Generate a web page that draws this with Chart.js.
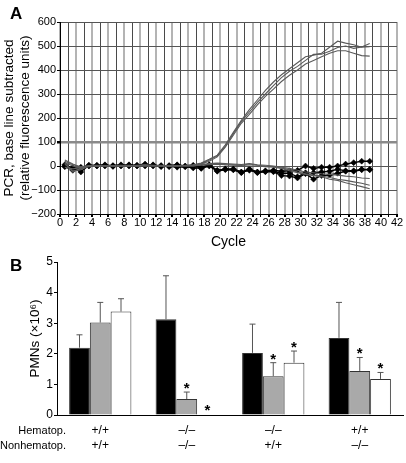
<!DOCTYPE html>
<html>
<head>
<meta charset="utf-8">
<script src="https://cdn.jsdelivr.net/npm/chart.js@4.4.1/dist/chart.umd.min.js"></script>
<style>
    html, body { margin: 0; padding: 0; background: #fff; }
    body { width: 406px; height: 463px; position: relative; overflow: hidden; font-family: 'Liberation Sans', Arial, sans-serif; }
    .panel { position: absolute; left: 0; width: 406px; }
    #panelA { top: 0; height: 256px; }
    #panelB { top: 250px; height: 213px; }
    .panel-letter { position: absolute; font-weight: bold; font-size: 17px; color: #000; }
</style>
</head>
<body>
<div class="panel" id="panelA"><canvas id="pcrChart"></canvas></div>
<div class="panel" id="panelB"><canvas id="pmnChart"></canvas></div>
<div class="panel-letter" style="left: 10px; top: 4px;">A</div>
<div class="panel-letter" style="left: 10px; top: 256px;">B</div>
<script>
// Panel A: PCR amplification, one value per cycle
const cycles = [0.6, 1.6, 2.6, 3.6, 4.6, 5.6, 6.6, 7.6, 8.6, 9.6, 10.6, 11.6, 12.6, 13.6, 14.6, 15.6, 16.6, 17.6, 18.6, 19.6,
    20.6, 21.6, 22.6, 23.6, 24.6, 25.6, 26.6, 27.6, 28.6, 29.6, 30.6, 31.6, 32.6, 33.6, 34.6, 35.6, 36.6, 37.6, 38.6];

const ampCurve1 = [20, 5, -3, 2, 3, 0, 2, 3, 0, 3, 5, 2, 3, 0, 2, 3, 5, 12, 28, 45,
    88, 140, 190, 235, 275, 315, 350, 380, 405, 430, 455, 462, 470, 495, 520, 512, 505, 495, 497];
const ampCurve2 = [12, -25, -8, 0, 2, 1, 0, 2, 3, 1, 4, 2, 0, 3, 1, 2, 4, 10, 25, 42,
    82, 135, 185, 225, 265, 300, 335, 368, 395, 415, 440, 465, 466, 478, 494, 500, 490, 496, 510];
const ampCurve3 = [-5, -12, -6, -2, 0, 2, 1, 0, 2, 0, 2, 3, 1, 0, 2, 0, 3, 8, 20, 38,
    78, 128, 178, 215, 255, 290, 320, 352, 378, 400, 425, 440, 455, 470, 480, 480, 470, 460, 458];

const markedLine1 = [0, -8, -25, 3, 2, 5, 0, 2, 3, 0, 5, 3, 0, 2, 5, 0, 3, -5, 5, -18,
    -12, -12, -25, -12, -25, -20, -18, -22, -20, -18, 0, -10, -5, -5, 0, 8, 14, 20, 20];
const markedLine2 = [5, -10, -5, 0, 3, 0, 2, 5, 0, 3, 8, 0, 2, -3, 3, -2, 0, -8, 3, -20,
    -14, -15, -28, -15, -28, -22, -22, -30, -30, -45, -28, -28, -25, -22, -14, -20, -20, -14, -14];
const markedLine3 = [-3, -18, -8, 2, 0, 3, -2, 0, 5, 2, 0, 5, -3, 0, -5, -3, -8, -10, 0, -22,
    -15, -16, -26, -18, -26, -24, -24, -40, -42, -50, -32, -55, -40, -38, -30, -22, -22, -16, -16];

const plainLine1 = [15, 0, -10, -3, 0, 2, 0, 0, 2, 0, 0, 2, 0, 0, 2, 0, 0, 5, 8, 10,
    5, 5, 3, 8, 3, 0, -2, -8, -15, -25, -32, -38, -42, -48, -55, -60, -66, -72, -80];
const plainLine2 = [8, -20, -15, 0, -2, 0, 0, 1, 0, 0, 2, 0, 0, 1, 0, 2, 0, 3, 5, 8,
    5, 3, 2, 0, 0, -3, -5, -10, -20, -28, -35, -40, -45, -55, -60, -70, -78, -86, -95];
const plainLine3 = [25, 8, -5, 0, 0, 2, 1, 0, 0, 2, 0, 1, 0, 0, 0, 1, 2, 5, 10, 12,
    10, 8, 6, 10, 5, 3, 0, -5, -10, -18, -25, -28, -32, -35, -38, -42, -45, -50, -52];

// Panel B: PMN counts per genotype group
const hematopLabels = ['+/+', '\u2013/\u2013', '\u2013/\u2013', '+/+'];
const nonhematopLabels = ['+/+', '\u2013/\u2013', '+/+', '\u2013/\u2013'];

const blackMeans = [2.2, 3.13, 2.03, 2.52];
const blackErrors = [0.42, 1.42, 0.94, 1.16];
const blackStars = [false, false, false, false];

const grayMeans = [3.02, 0.52, 1.27, 1.44];
const grayErrors = [0.66, 0.23, 0.44, 0.44];
const grayStars = [false, true, true, true];

const whiteMeans = [3.38, 0.02, 1.71, 1.18];
const whiteErrors = [0.42, 0, 0.38, 0.21];
const whiteStars = [false, true, true, true];

const fontFamily = "'Liberation Sans', Arial, sans-serif";
Chart.defaults.font.family = fontFamily;
Chart.defaults.color = '#000';

function toPoints(values) {
    return values.map(function (value, i) {
        return { x: cycles[i], y: value };
    });
}

function plainDataset(values) {
    return {
        data: toPoints(values),
        borderColor: '#5a5a5a',
        borderWidth: 1.1,
        pointRadius: 0,
        tension: 0
    };
}

function markedDataset(values) {
    return {
        data: toPoints(values),
        borderColor: '#000',
        borderWidth: 1.4,
        pointRadius: 3,
        pointStyle: 'rectRot',
        pointBackgroundColor: '#000',
        pointBorderColor: '#000',
        pointBorderWidth: 0.5,
        tension: 0
    };
}

new Chart(document.getElementById('pcrChart'), {
    type: 'line',
    data: {
        datasets: [
            plainDataset(plainLine1),
            plainDataset(plainLine2),
            plainDataset(plainLine3),
            plainDataset(ampCurve1),
            plainDataset(ampCurve2),
            plainDataset(ampCurve3),
            markedDataset(markedLine1),
            markedDataset(markedLine2),
            markedDataset(markedLine3)
        ]
    },
    options: {
        responsive: true,
        maintainAspectRatio: false,
        animation: false,
        events: [],
        layout: { padding: { top: 22, right: 9, left: 0, bottom: 0 } },
        plugins: { legend: { display: false }, tooltip: { enabled: false } },
        scales: {
            x: {
                type: 'linear',
                min: 0,
                max: 42,
                afterFit: function (scale) { scale.height = 42; },
                ticks: {
                    stepSize: 1,
                    autoSkip: false,
                    maxRotation: 0,
                    padding: 0,
                    font: { size: 11, lineHeight: 1 },
                    callback: function (value) {
                        return value % 2 === 0 ? String(value) : '';
                    }
                },
                grid: {
                    color: function (ctx) {
                        return ctx.tick && ctx.tick.value % 2 === 0 ? '#b4b4b4' : '#4a4a4a';
                    },
                    lineWidth: function (ctx) {
                        return ctx.tick && ctx.tick.value % 2 === 0 ? 2 : 1;
                    },
                    tickLength: 3,
                    tickColor: '#000'
                },
                border: { color: '#000', width: 1 },
                title: {
                    display: true,
                    text: 'Cycle',
                    font: { size: 14 },
                    padding: { top: 0, bottom: 5 }
                }
            },
            y: {
                min: -200,
                max: 600,
                afterFit: function (scale) { scale.width = 60; },
                ticks: {
                    stepSize: 50,
                    padding: 1,
                    font: { size: 11 },
                    callback: function (value) {
                        if (value % 100 !== 0) {
                            return '';
                        }
                        return value < 0 ? '\u2212' + Math.abs(value) : String(value);
                    }
                },
                grid: {
                    color: function (ctx) {
                        return ctx.tick && ctx.tick.value === 100 ? '#8a8a8a' : '#555';
                    },
                    lineWidth: function (ctx) {
                        return ctx.tick && ctx.tick.value === 100 ? 2.5 : 1;
                    },
                    tickLength: 3,
                    tickColor: '#000'
                },
                border: { color: '#000', width: 1 },
                title: {
                    display: true,
                    text: ['PCR, base line subtracted', '(relative fluorescence units)'],
                    font: { size: 13.5, lineHeight: 1.2 },
                    padding: { top: 1, bottom: 0 }
                }
            }
        }
    }
});

const errorBarPlugin = {
    id: 'errorBars',
    afterDatasetsDraw: function (chart) {
        const ctx = chart.ctx;
        const yScale = chart.scales.y;

        ctx.save();
        chart.data.datasets.forEach(function (dataset, i) {
            const meta = chart.getDatasetMeta(i);
            meta.data.forEach(function (bar, j) {
                const yTop = yScale.getPixelForValue(dataset.data[j] + dataset.errors[j]);

                if (dataset.errors[j] > 0) {
                    ctx.strokeStyle = '#555';
                    ctx.lineWidth = 1;
                    ctx.beginPath();
                    ctx.moveTo(bar.x, bar.y);
                    ctx.lineTo(bar.x, yTop);
                    ctx.moveTo(bar.x - 3, yTop);
                    ctx.lineTo(bar.x + 3, yTop);
                    ctx.stroke();
                }

                if (dataset.stars[j]) {
                    ctx.fillStyle = '#000';
                    ctx.font = 'bold 15px ' + fontFamily;
                    ctx.textAlign = 'center';
                    ctx.textBaseline = 'alphabetic';
                    ctx.fillText('*', bar.x, yTop + 1);
                }
            });
        });
        ctx.restore();
    },
    afterDraw: function (chart) {
        const ctx = chart.ctx;
        const area = chart.chartArea;

        ctx.save();
        ctx.fillStyle = '#000';
        ctx.font = '11px ' + fontFamily;
        ctx.textAlign = 'right';
        ctx.textBaseline = 'middle';
        ctx.fillText('Hematop.', area.left + 9, area.bottom + 16);
        ctx.fillText('Nonhematop.', area.left + 9, area.bottom + 31);
        ctx.restore();
    }
};

function barDataset(means, errors, stars, color) {
    return {
        data: means,
        errors: errors,
        stars: stars,
        backgroundColor: color,
        borderColor: '#333',
        borderWidth: 1,
        categoryPercentage: 0.72,
        barPercentage: 1
    };
}

new Chart(document.getElementById('pmnChart'), {
    type: 'bar',
    data: {
        labels: hematopLabels.map(function (label, i) {
            return [label, nonhematopLabels[i]];
        }),
        datasets: [
            barDataset(blackMeans, blackErrors, blackStars, '#000'),
            barDataset(grayMeans, grayErrors, grayStars, '#a9a9a9'),
            barDataset(whiteMeans, whiteErrors, whiteStars, '#fff')
        ]
    },
    options: {
        responsive: true,
        maintainAspectRatio: false,
        animation: false,
        events: [],
        layout: { padding: { top: 12, right: 3, left: 0, bottom: 0 } },
        plugins: { legend: { display: false }, tooltip: { enabled: false } },
        scales: {
            x: {
                afterFit: function (scale) { scale.height = 48; },
                ticks: {
                    padding: 8.5,
                    maxRotation: 0,
                    font: { size: 12, lineHeight: 1.25 }
                },
                grid: { display: false, drawTicks: false },
                border: { color: '#000', width: 1 }
            },
            y: {
                min: 0,
                max: 5,
                afterFit: function (scale) { scale.width = 57; },
                ticks: {
                    stepSize: 1,
                    padding: 1,
                    font: { size: 12 }
                },
                grid: {
                    drawOnChartArea: false,
                    tickLength: 3,
                    tickColor: '#000'
                },
                border: { color: '#000', width: 1 },
                title: {
                    display: true,
                    text: 'PMNs (\u00d710\u2076)',
                    font: { size: 13.5 },
                    padding: { top: 27, bottom: 0 }
                }
            }
        }
    },
    plugins: [errorBarPlugin]
});
</script>
</body>
</html>
